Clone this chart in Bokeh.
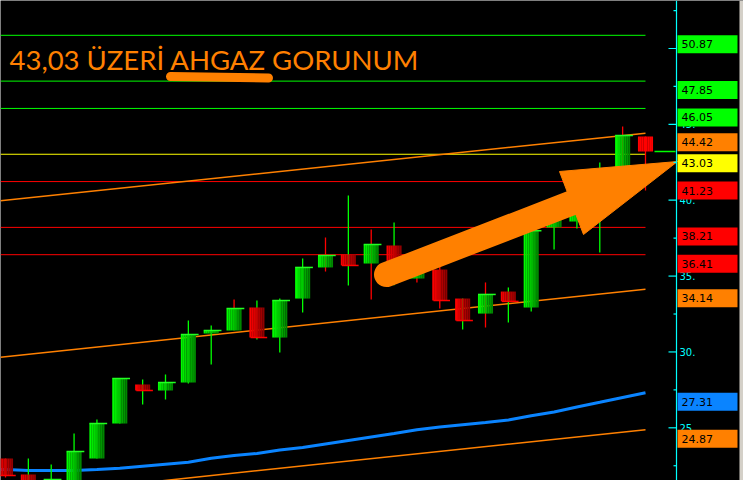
import numpy as np
from bokeh.plotting import figure
from bokeh.models import Range1d, ColumnDataSource
from bokeh.core.properties import value
from bokeh.embed import file_html
from bokeh.resources import INLINE

# ---------------- data ----------------
opens  = [22.98, 21.92, 21.00, 21.30, 22.98, 25.28, 27.85, 27.46, 27.99, 31.22,
          31.41, 32.93, 30.95, 33.52, 35.57, 36.42, 35.83, 37.01, 34.84, 35.43,
          33.52, 32.53, 33.98, 32.93, 38.20, 38.60, 40.00, 41.80, 44.20]
closes = [21.86, 21.20, 21.59, 23.44, 25.28, 28.25, 27.46, 27.99, 31.15, 31.41,
          32.87, 30.95, 33.39, 35.57, 36.36, 35.70, 37.08, 35.00, 35.90, 33.39,
          32.07, 33.79, 33.33, 37.99, 39.10, 40.20, 41.70, 44.27, 43.21]
highs  = [22.98, 22.98, 22.58, 24.63, 25.55, 28.25, 28.18, 28.51, 32.07, 31.74,
          33.46, 33.39, 33.52, 36.16, 37.54, 40.31, 38.07, 38.53, 36.20, 35.70,
          33.52, 34.58, 34.25, 38.00, 39.50, 40.80, 42.49, 44.86, 44.20]
lows   = [21.72, 21.00, 20.90, 21.20, 22.98, 25.28, 26.54, 26.87, 27.92, 29.17,
          31.41, 30.82, 29.96, 32.60, 35.30, 34.38, 33.46, 34.40, 34.58, 32.87,
          31.48, 31.61, 31.94, 32.67, 36.75, 38.14, 36.55, 41.50, 40.64]
# wick state (+1 up / -1 down) as shown by the chart's wick colouring
wick_dir = [-1, 1, 1, 1, 1, 1, 1, 1, 1, 1,
            -1, 1, 1, 1, -1, 1, -1, 1, -1, -1,
            1, -1, 1, 1, 1, 1, 1, -1, -1]
# moving average
ma = [22.25, 22.19, 22.19, 22.19, 22.25, 22.34, 22.47, 22.60, 22.73, 22.99,
      23.17, 23.31, 23.54, 23.70, 23.93, 24.16, 24.39, 24.62, 24.87, 25.05,
      25.20, 25.35, 25.51, 25.79, 26.04, 26.37, 26.68, 27.00, 27.31]
# horizontal levels
levels_green = [50.87, 47.85, 46.05]
levels_yellow = [43.03]
levels_red = [41.23, 38.21, 36.41]
# trend channel lines: (value at first bar, value at last bar)
channel_upper = (40.00, 44.42)
channel_lower = (29.68, 34.14)
channel_bottom = (20.42, 24.87)
# axis ticks
major_ticks = [25, 30, 35, 40, 45, 50]
major_labels = ["25.", "30.", "35.", "40.", "45.", "50."]
minor_ticks = [22.5, 27.5, 32.5, 37.5, 42.5, 47.5, 52.5]
TITLE = "43,03 ÜZERİ AHGAZ GORUNUM"

# ---------------- layout helpers (reference pixel -> data) ----------------
BAR_PX = 22.857
X0_PX = 5.0
Y_TOP = 53.164
PX_PER_UNIT = 15.172


def fx(px):
    return (px - X0_PX) / BAR_PX


def fy(py):
    return Y_TOP - py / PX_PER_UNIT


n = len(closes)
idx = list(range(n))
ORANGE = "#ff8000"
GREEN = "#00ff00"
RED = "#ff0000"

p = figure(width=743, height=480,
           x_range=Range1d(fx(0), fx(743)), y_range=Range1d(fy(480), fy(0)),
           toolbar_location=None, output_backend="svg",
           x_axis_location=None, y_axis_location=None, min_border=0,
           background_fill_color="black", border_fill_color="black",
           outline_line_color=None)
p.grid.visible = False

# level lines
xs = fx(0)
last = n - 1
for lv in levels_green:
    p.segment(x0=[xs], y0=[lv], x1=[last], y1=[lv], line_color=GREEN, line_width=1)
for lv in levels_yellow:
    p.segment(x0=[xs], y0=[lv], x1=[last], y1=[lv], line_color="#ffff00", line_width=1)
for lv in levels_red:
    p.segment(x0=[xs], y0=[lv], x1=[last], y1=[lv], line_color=RED, line_width=1)

# channel lines
for a, b in (channel_upper, channel_lower, channel_bottom):
    slope = (b - a) / (n - 1)
    p.line([xs, last], [a + slope * xs, b], line_color=ORANGE, line_width=1.5)

# moving average
p.line([xs] + idx, [ma[0]] + ma, line_color="#0a84ff", line_width=3)

# wicks
wick_cols = [GREEN if d > 0 else RED for d in wick_dir]
p.segment(x0=idx, y0=highs, x1=idx, y1=lows, line_color=wick_cols, line_width=1.3)

# bodies with horizontal gradient
BODY_W = 15.0 / BAR_PX
NS = 8
sx, st, sb, sc = [], [], [], []
for i in range(n):
    up = closes[i] >= opens[i]
    top = max(opens[i], closes[i])
    bot = min(opens[i], closes[i])
    for k in range(NS):
        f = k / (NS - 1)
        if i == n - 1:
            col = "#ff0000"
        elif up:
            col = "#%02x%02x%02x" % (0, int(250 - 115 * f), 0)
        else:
            col = "#%02x%02x%02x" % (int(250 - 105 * f), 0, 0)
        sx.append(i - BODY_W / 2 + (k + 0.5) * BODY_W / NS)
        st.append(top)
        sb.append(bot)
        sc.append(col)
p.vbar(x=sx, width=BODY_W / NS * 1.05, top=st, bottom=sb, fill_color=sc, line_color=None)

# close markers
cx0, cx1, cy, cc = [], [], [], []
for i in range(n - 1):
    up = closes[i] >= opens[i]
    cx0.append(i - BODY_W / 2 + (0 if up else 0.05))
    cx1.append(i + BODY_W / 2 + 0.12)
    cy.append(closes[i])
    cc.append("#22ff22" if up else "#ff0000")
p.segment(x0=cx0, y0=cy, x1=cx1, y1=cy, line_color=cc, line_width=1.5)

# current price dash
p.segment(x0=[fx(654)], y0=[closes[-1]], x1=[fx(675)], y1=[closes[-1]], line_color=GREEN, line_width=1.5)

# big arrow
p.line([fx(386), fx(571)], [fy(274), fy(202.5)], line_color=ORANGE, line_width=25, line_cap="round")
p.patch([fx(559), fx(677), fx(583)], [fy(171), fy(161), fy(234)], fill_color=ORANGE, line_color=ORANGE)

# title + underline
p.text(x=[fx(9)], y=[fy(59)], text=[TITLE], text_font=value("Lato"), text_font_size="27.5px",
       text_color=ORANGE, text_baseline="middle", text_align="left")
p.line([fx(170), fx(268)], [fy(76), fy(77.5)], line_color=ORANGE, line_width=9, line_cap="round")

# right price axis
p.segment(x0=[fx(676)], y0=[fy(480)], x1=[fx(676)], y1=[fy(0)], line_color="#00ffff", line_width=1.2)
p.segment(x0=[fx(668)] * len(major_ticks), y0=major_ticks, x1=[fx(676)] * len(major_ticks), y1=major_ticks,
          line_color="#00ffff", line_width=1.2)
p.segment(x0=[fx(673)] * len(minor_ticks), y0=minor_ticks, x1=[fx(676)] * len(minor_ticks), y1=minor_ticks,
          line_color="#00ffff", line_width=1.2)
p.text(x=[fx(679)] * len(major_ticks), y=major_ticks, text=major_labels, text_font=value("DejaVu Sans"),
       text_font_size="10px", text_color="#00ffff", text_baseline="middle", text_align="left")

# price boxes
box_vals = (levels_green + [channel_upper[1]] + levels_yellow + levels_red
            + [channel_lower[1], ma[-1], channel_bottom[1]])
box_cols = ([GREEN] * len(levels_green) + [ORANGE] + ["#ffff00"] * len(levels_yellow)
            + [RED] * len(levels_red) + [ORANGE, "#0a84ff", ORANGE])
BOX_H = 18.0 / PX_PER_UNIT
p.quad(left=[fx(677)] * len(box_vals), right=[fx(737)] * len(box_vals), top=box_vals,
       bottom=[v - BOX_H for v in box_vals], fill_color=box_cols, line_color=None)
p.text(x=[fx(681)] * len(box_vals), y=[v - BOX_H / 2 for v in box_vals],
       text=["%.2f" % v for v in box_vals], text_font=value("DejaVu Sans"), text_font_size="11px",
       text_color="#000000", text_baseline="middle", text_align="left")

# scrollbar strip at the far right
p.quad(left=[fx(739)], right=[fx(743)], top=[fy(0)], bottom=[fy(480)], fill_color="#d4d0c8", line_color=None)

open("out.html", "w").write(file_html(p, INLINE))
